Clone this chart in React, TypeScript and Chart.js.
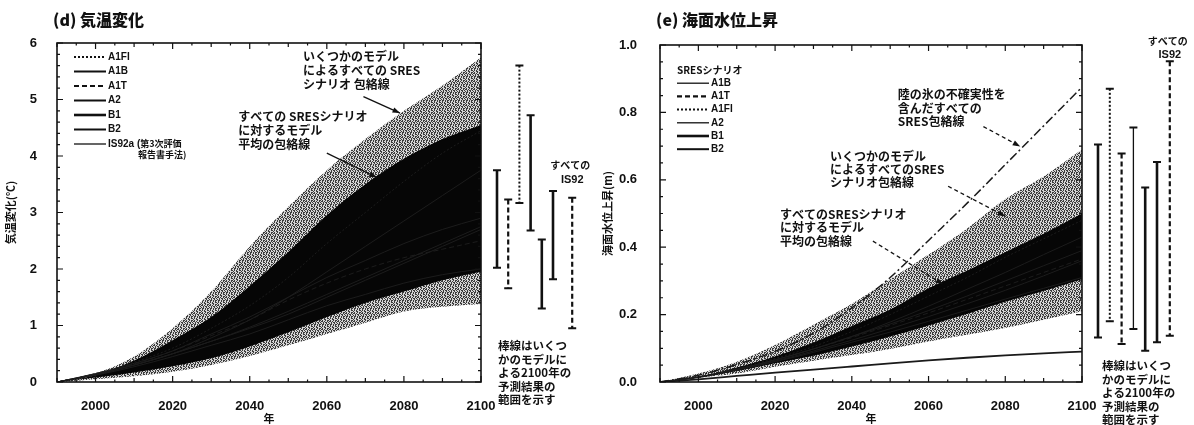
import React, { useEffect, useRef } from "react";
import { Chart, registerables } from "chart.js";

Chart.register(...registerables);

// ---------------- data ----------------
const years = [1990, 2000, 2010, 2020, 2030, 2040, 2050, 2060, 2070, 2080, 2090, 2100];
const yearTicks = [2000, 2020, 2040, 2060, 2080, 2100];
const tempTicks = [0, 1, 2, 3, 4, 5, 6];
const seaTicks = [0, 0.2, 0.4, 0.6, 0.8, 1.0];

// (d) temperature change (°C)
const tempAllUpper = [0, 0.15, 0.45, 0.95, 1.6, 2.4, 3.1, 3.75, 4.3, 4.8, 5.25, 5.75];
const tempMeanUpper = [0, 0.12, 0.38, 0.74, 1.15, 1.7, 2.3, 2.95, 3.5, 3.95, 4.3, 4.55];
const tempMeanLower = [0, 0.08, 0.17, 0.28, 0.42, 0.63, 0.88, 1.15, 1.4, 1.6, 1.8, 1.95];
const tempAllLower = [0, 0.05, 0.1, 0.18, 0.3, 0.46, 0.65, 0.85, 1.05, 1.25, 1.33, 1.38];

const tempA1FI = [0, 0.15, 0.35, 0.6, 0.95, 1.35, 1.85, 2.45, 3.0, 3.55, 4.05, 4.45];
const tempA1B = [0, 0.15, 0.33, 0.55, 0.85, 1.15, 1.5, 1.85, 2.15, 2.45, 2.7, 2.9];
const tempA1T = [0, 0.14, 0.32, 0.55, 0.82, 1.1, 1.45, 1.75, 2.0, 2.2, 2.35, 2.5];
const tempA2 = [0, 0.14, 0.3, 0.5, 0.78, 1.1, 1.5, 1.95, 2.4, 2.85, 3.3, 3.75];
const tempB1 = [0, 0.12, 0.27, 0.45, 0.65, 0.85, 1.1, 1.35, 1.55, 1.75, 1.9, 2.0];
const tempB2 = [0, 0.13, 0.3, 0.5, 0.72, 0.95, 1.2, 1.5, 1.8, 2.1, 2.4, 2.7];
const tempIS92a = [0, 0.13, 0.3, 0.5, 0.72, 0.97, 1.25, 1.55, 1.85, 2.15, 2.45, 2.75];

const tempBarNames = ["A1B", "A1T", "A1FI", "A2", "B1", "B2", "IS92"];
const tempBarLow = [2.02, 1.66, 3.17, 2.68, 1.3, 1.82, 0.95];
const tempBarHigh = [3.75, 3.23, 5.6, 4.72, 2.52, 3.38, 3.26];

// (e) sea level rise (m)
const seaIceUpper = [0, 0.02, 0.052, 0.091, 0.145, 0.22, 0.31, 0.42, 0.53, 0.645, 0.76, 0.875];
const seaIceLower = [0, 0.008, 0.018, 0.028, 0.037, 0.046, 0.055, 0.064, 0.072, 0.079, 0.085, 0.09];
const seaAllUpper = [0, 0.025, 0.06, 0.11, 0.17, 0.232, 0.305, 0.378, 0.455, 0.543, 0.61, 0.69];
const seaMeanUpper = [0, 0.015, 0.043, 0.076, 0.117, 0.166, 0.215, 0.278, 0.33, 0.385, 0.44, 0.5];
const seaMeanLower = [0, 0.013, 0.033, 0.056, 0.078, 0.105, 0.135, 0.168, 0.202, 0.238, 0.27, 0.305];
const seaAllLower = [0, 0.012, 0.025, 0.045, 0.063, 0.08, 0.098, 0.12, 0.14, 0.16, 0.185, 0.21];

const seaA1B = [0, 0.015, 0.038, 0.066, 0.098, 0.135, 0.172, 0.212, 0.255, 0.3, 0.345, 0.39];
const seaA1T = [0, 0.015, 0.038, 0.066, 0.098, 0.132, 0.168, 0.205, 0.245, 0.285, 0.325, 0.365];
const seaA1FI = [0, 0.015, 0.04, 0.07, 0.105, 0.15, 0.2, 0.255, 0.31, 0.37, 0.425, 0.48];
const seaA2 = [0, 0.014, 0.037, 0.065, 0.098, 0.135, 0.178, 0.225, 0.275, 0.325, 0.378, 0.43];
const seaB1 = [0, 0.014, 0.035, 0.06, 0.088, 0.118, 0.148, 0.18, 0.213, 0.246, 0.278, 0.31];
const seaB2 = [0, 0.014, 0.036, 0.062, 0.092, 0.124, 0.158, 0.194, 0.232, 0.272, 0.315, 0.36];

const seaBarNames = ["A1B", "A1FI", "A1T", "A2", "B1", "B2", "IS92"];
const seaBarLow = [0.132, 0.18, 0.113, 0.157, 0.093, 0.118, 0.137];
const seaBarHigh = [0.705, 0.87, 0.678, 0.755, 0.577, 0.653, 0.952];

// ---------------- styling ----------------
const LATIN = '"Liberation Sans", Arial, sans-serif';
const CJK = '"Noto Sans CJK JP", "Noto Sans", sans-serif';
const INK = "#111";

type Style = { dash: number[]; width: number };
type LegendItem = { label: string; style: Style };
type Note = { lines: string[]; x: number; y: number; from: [number, number]; to: [number, number]; dash: number[] };

interface PanelCfg {
  title: string;
  yTitle: string;
  yMin: number;
  yMax: number;
  yTicks: number[];
  yMinor: number;
  yDecimals: number;
  yWidth: number;
  areaTop: number;
  areaRight: number;
  canvasWidth: number;
  datasets: any[];
  legendHeader?: string;
  legend: LegendItem[];
  legendTop: number;
  legendRow: number;
  notes: Note[];
  noteFont: number;
  noteLine: number;
  barNames: string[];
  barLow: number[];
  barHigh: number[];
  barStyles: Style[];
  barStart: number;
  barStep: number;
  barExtra: number;
  allLabelVals: [number, number];
  foot: string[];
  footX: number;
  footY: number;
  footLine: number;
}

const pts = (arr: number[]) => years.map((x, i) => ({ x, y: arr[i] }));

function lineDs(label: string, arr: number[], color: string, width: number, dash: number[]) {
  return {
    label,
    data: pts(arr),
    borderColor: color,
    borderWidth: width,
    borderDash: dash,
    pointRadius: 0,
    fill: false,
    cubicInterpolationMode: "monotone",
  };
}

function bandDs(label: string, arr: number[], bg: any, fill: any) {
  return {
    label,
    data: pts(arr),
    borderColor: "rgba(0,0,0,0)",
    borderWidth: 0,
    backgroundColor: bg,
    pointRadius: 0,
    fill,
    cubicInterpolationMode: "monotone",
  };
}

function makeStipple(): any {
  const c = document.createElement("canvas");
  c.width = 8;
  c.height = 8;
  const g = c.getContext("2d");
  if (!g) return "#999";
  const rows = ["#.#..#.#", ".##.#..#", "#..#.##.", ".#.#..#.", "#.##.#.#", "..#..#.#", "#.#.#..#", ".#..##.."];
  for (let y = 0; y < 8; y++) {
    for (let x = 0; x < 8; x++) {
      g.fillStyle = rows[y][x] === "#" ? "#3c3c3c" : "#d6d6d6";
      g.fillRect(x, y, 1, 1);
    }
  }
  return g.createPattern(c, "repeat") || "#999";
}

function arrow(ctx: CanvasRenderingContext2D, x1: number, y1: number, x2: number, y2: number, dash: number[]) {
  ctx.save();
  ctx.strokeStyle = INK;
  ctx.fillStyle = INK;
  ctx.lineWidth = 1.3;
  ctx.setLineDash(dash);
  ctx.beginPath();
  ctx.moveTo(x1, y1);
  ctx.lineTo(x2, y2);
  ctx.stroke();
  ctx.setLineDash([]);
  const a = Math.atan2(y2 - y1, x2 - x1);
  ctx.beginPath();
  ctx.moveTo(x2, y2);
  ctx.lineTo(x2 - 8 * Math.cos(a - 0.35), y2 - 8 * Math.sin(a - 0.35));
  ctx.lineTo(x2 - 8 * Math.cos(a + 0.35), y2 - 8 * Math.sin(a + 0.35));
  ctx.closePath();
  ctx.fill();
  ctx.restore();
}

function decorPlugin(cfg: PanelCfg) {
  return {
    id: "decor",
    afterDraw(chart: any) {
      const ctx: CanvasRenderingContext2D = chart.ctx;
      const a = chart.chartArea;
      const xs = chart.scales.x;
      const ys = chart.scales.y;
      ctx.save();
      // frame
      ctx.strokeStyle = INK;
      ctx.lineWidth = 1.6;
      ctx.strokeRect(a.left, a.top, a.right - a.left, a.bottom - a.top);
      ctx.lineWidth = 1.2;
      ctx.beginPath();
      for (let yr = 1990; yr <= 2100; yr += 5) {
        const x = xs.getPixelForValue(yr);
        const len = yr % 20 === 0 ? 6 : yr % 10 === 0 ? 4 : 2.5;
        ctx.moveTo(x, a.bottom);
        ctx.lineTo(x, a.bottom - len);
        ctx.moveTo(x, a.top);
        ctx.lineTo(x, a.top + len);
      }
      const nMinor = Math.round((cfg.yMax - cfg.yMin) / cfg.yMinor);
      for (let i = 0; i <= nMinor; i++) {
        const v = cfg.yMin + i * cfg.yMinor;
        const y = ys.getPixelForValue(v);
        const major = cfg.yTicks.some((t) => Math.abs(t - v) < 1e-6);
        const len = major ? 6 : 3;
        ctx.moveTo(a.left, y);
        ctx.lineTo(a.left + len, y);
        ctx.moveTo(a.right, y);
        ctx.lineTo(a.right - len, y);
      }
      ctx.stroke();

      // title
      ctx.fillStyle = INK;
      ctx.textBaseline = "middle";
      ctx.textAlign = "left";
      ctx.font = `900 16px ${CJK}`;
      ctx.fillText(cfg.title, a.left - 4, 20);

      // legend
      let ly = a.top + cfg.legendTop;
      const lx = a.left + 17;
      if (cfg.legendHeader) {
        ctx.font = `bold 10px ${CJK}`;
        ctx.fillText(cfg.legendHeader, lx, ly);
        ly += cfg.legendRow;
      }
      cfg.legend.forEach((it, i) => {
        const y = ly + i * cfg.legendRow;
        ctx.save();
        ctx.strokeStyle = INK;
        ctx.lineWidth = it.style.width;
        ctx.setLineDash(it.style.dash);
        ctx.beginPath();
        ctx.moveTo(lx, y);
        ctx.lineTo(lx + 32, y);
        ctx.stroke();
        ctx.restore();
        const parts = it.label.split("\n");
        let px = lx + 34;
        parts.forEach((p, k) => {
          // latin head then CJK tail on the same line
          const m = p.match(/^([\x00-\x7f]*)(.*)$/);
          const head = m ? m[1] : p;
          const tail = m ? m[2] : "";
          let x = k > 0 ? lx + 64 : px;
          if (head) {
            ctx.font = `bold 10px ${LATIN}`;
            ctx.fillText(head, x, y + k * 11);
            x += ctx.measureText(head).width;
          }
          if (tail) {
            ctx.font = `bold 9px ${CJK}`;
            ctx.fillText(tail, x, y + k * 11);
          }
        });
      });

      // notes with arrows
      cfg.notes.forEach((n) => {
        const x0 = xs.getPixelForValue(n.x);
        const y0 = ys.getPixelForValue(n.y);
        ctx.font = `bold ${cfg.noteFont}px ${CJK}`;
        n.lines.forEach((t, k) => {
          const w = ctx.measureText(t).width;
          ctx.fillStyle = "#fff";
          ctx.fillRect(x0 - 1, y0 + k * cfg.noteLine - cfg.noteLine / 2, w + 2, cfg.noteLine);
          ctx.fillStyle = INK;
          ctx.fillText(t, x0, y0 + k * cfg.noteLine);
        });
        arrow(
          ctx,
          xs.getPixelForValue(n.from[0]),
          ys.getPixelForValue(n.from[1]),
          xs.getPixelForValue(n.to[0]),
          ys.getPixelForValue(n.to[1]),
          n.dash
        );
      });

      // range bars for 2100
      ctx.strokeStyle = INK;
      cfg.barLow.forEach((lo, i) => {
        const st = cfg.barStyles[i];
        const x =
          a.right + cfg.barStart + i * cfg.barStep + (i === cfg.barLow.length - 1 ? cfg.barExtra : 0);
        const yTop = ys.getPixelForValue(cfg.barHigh[i]);
        const yBot = ys.getPixelForValue(lo);
        ctx.lineWidth = st.width;
        ctx.setLineDash(st.dash);
        ctx.beginPath();
        ctx.moveTo(x, yTop);
        ctx.lineTo(x, yBot);
        ctx.stroke();
        ctx.setLineDash([]);
        ctx.lineWidth = 2;
        ctx.beginPath();
        ctx.moveTo(x - 4, yTop);
        ctx.lineTo(x + 4, yTop);
        ctx.moveTo(x - 4, yBot);
        ctx.lineTo(x + 4, yBot);
        ctx.stroke();
      });
      const lastX = a.right + cfg.barStart + (cfg.barLow.length - 1) * cfg.barStep + cfg.barExtra;
      ctx.textAlign = "center";
      ctx.font = `bold 10px ${CJK}`;
      ctx.fillText("すべての", lastX - 2, ys.getPixelForValue(cfg.allLabelVals[0]));
      ctx.font = `bold 11px ${LATIN}`;
      ctx.fillText(cfg.barNames[cfg.barNames.length - 1], lastX, ys.getPixelForValue(cfg.allLabelVals[1]));

      // footnote
      ctx.textAlign = "left";
      ctx.font = `bold 11.5px ${CJK}`;
      cfg.foot.forEach((t, k) => {
        ctx.fillText(t, a.right + cfg.footX, cfg.footY + k * cfg.footLine);
      });
      ctx.restore();
    },
  };
}

function Panel({ cfg, left }: { cfg: PanelCfg; left: number }) {
  const ref = useRef<HTMLCanvasElement>(null);
  useEffect(() => {
    const canvas = ref.current;
    if (!canvas) return;
    const chart = new Chart(canvas, {
      type: "line",
      data: { datasets: cfg.datasets },
      options: {
        animation: false,
        responsive: false,
        events: [],
        layout: { padding: { left: 0, top: cfg.areaTop, right: cfg.canvasWidth - cfg.areaRight, bottom: 0 } },
        plugins: { legend: { display: false }, tooltip: { enabled: false }, title: { display: false } },
        scales: {
          x: {
            type: "linear",
            min: 1990,
            max: 2100,
            grid: { display: false },
            border: { display: false },
            afterBuildTicks: (s: any) => {
              s.ticks = yearTicks.map((v) => ({ value: v }));
            },
            afterFit: (s: any) => {
              s.height = 425 - 382;
            },
            ticks: {
              padding: 9,
              maxRotation: 0,
              autoSkip: false,
              color: INK,
              font: { family: LATIN, size: 13, weight: "bold" },
              callback: (v: any) => String(v),
            },
            title: {
              display: true,
              text: "年",
              color: INK,
              padding: { top: 0, bottom: 0 },
              font: { family: CJK, size: 11, weight: "bold" },
            },
          },
          y: {
            type: "linear",
            min: cfg.yMin,
            max: cfg.yMax,
            grid: { display: false },
            border: { display: false },
            afterBuildTicks: (s: any) => {
              s.ticks = cfg.yTicks.map((v) => ({ value: v }));
            },
            afterFit: (s: any) => {
              s.width = cfg.yWidth;
            },
            ticks: {
              padding: cfg.yDecimals ? 15 : 12,
              color: INK,
              font: { family: LATIN, size: 13, weight: "bold" },
              callback: (v: any) => Number(v).toFixed(cfg.yDecimals),
            },
            title: {
              display: true,
              text: cfg.yTitle,
              color: INK,
              padding: { top: 4, bottom: 0 },
              font: { family: CJK, size: 11, weight: "bold" },
            },
          },
        },
      } as any,
      plugins: [decorPlugin(cfg) as any],
    });
    return () => chart.destroy();
  }, [cfg]);
  return (
    <canvas
      ref={ref}
      width={cfg.canvasWidth}
      height={425}
      style={{ position: "absolute", left, top: 0, width: cfg.canvasWidth, height: 425 }}
    />
  );
}

const S = {
  solid: { dash: [], width: 2 },
  thin: { dash: [], width: 1.3 },
  thick: { dash: [], width: 2.6 },
  dashed: { dash: [5, 3], width: 2.2 },
  dotted: { dash: [2, 2], width: 2 },
};

export default function App() {
  const stipple = React.useMemo(() => makeStipple(), []);
  const scen = "#1c1c1c";

  const tempCfg: PanelCfg = React.useMemo(
    () => ({
      title: "(d) 気温変化",
      yTitle: "気温変化(℃)",
      yMin: 0,
      yMax: 6,
      yTicks: tempTicks,
      yMinor: 0.2,
      yDecimals: 0,
      yWidth: 57,
      areaTop: 43,
      areaRight: 481,
      canvasWidth: 597,
      datasets: [
        lineDs("A1FI", tempA1FI, scen, 1, [2, 2]),
        lineDs("A1B", tempA1B, scen, 1, []),
        lineDs("A1T", tempA1T, scen, 1, [5, 3]),
        lineDs("A2", tempA2, scen, 1, []),
        lineDs("B1", tempB1, scen, 1, []),
        lineDs("B2", tempB2, scen, 1, []),
        lineDs("IS92a", tempIS92a, scen, 1, []),
        bandDs("モデル平均の包絡線 上限", tempMeanUpper, "#060606", "+1"),
        bandDs("モデル平均の包絡線 下限", tempMeanLower, "#060606", false),
        bandDs("SRES包絡線 上限", tempAllUpper, stipple, "+1"),
        bandDs("SRES包絡線 下限", tempAllLower, stipple, false),
      ],
      legend: [
        { label: "A1FI", style: S.dotted },
        { label: "A1B", style: S.solid },
        { label: "A1T", style: S.dashed },
        { label: "A2", style: S.solid },
        { label: "B1", style: S.thick },
        { label: "B2", style: S.solid },
        { label: "IS92a (第3次評価\n報告書手法)", style: S.thin },
      ],
      legendTop: 14,
      legendRow: 14.5,
      notes: [
        {
          lines: ["いくつかのモデル", "によるすべての SRES", "シナリオ 包絡線"],
          x: 2053.8,
          y: 5.76,
          from: [2069.5, 5.05],
          to: [2079, 4.76],
          dash: [],
        },
        {
          lines: ["すべての SRESシナリオ", "に対するモデル", "平均の包絡線"],
          x: 2037,
          y: 4.7,
          from: [2060, 4.05],
          to: [2073, 3.62],
          dash: [],
        },
      ],
      noteFont: 12,
      noteLine: 14,
      barNames: tempBarNames,
      barLow: tempBarLow,
      barHigh: tempBarHigh,
      barStyles: [S.thick, S.dashed, S.dotted, S.thick, S.thick, S.thick, S.dashed],
      barStart: 16,
      barStep: 11.2,
      barExtra: 8,
      allLabelVals: [3.83, 3.58],
      foot: ["棒線はいくつ", "かのモデルに", "よる2100年の", "予測結果の", "範囲を示す"],
      footX: 17,
      footY: 346,
      footLine: 13.5,
    }),
    [stipple]
  );

  const seaCfg: PanelCfg = React.useMemo(
    () => ({
      title: "(e) 海面水位上昇",
      yTitle: "海面水位上昇(m)",
      yMin: 0,
      yMax: 1,
      yTicks: seaTicks,
      yMinor: 0.05,
      yDecimals: 1,
      yWidth: 63,
      areaTop: 45,
      areaRight: 485,
      canvasWidth: 597,
      datasets: [
        lineDs("A1B", seaA1B, scen, 1, []),
        lineDs("A1T", seaA1T, scen, 1, [5, 3]),
        lineDs("A1FI", seaA1FI, scen, 1, [2, 2]),
        lineDs("A2", seaA2, scen, 1, []),
        lineDs("B1", seaB1, scen, 1, []),
        lineDs("B2", seaB2, scen, 1, []),
        lineDs("陸の氷の不確実性を含んだSRES包絡線 上限", seaIceUpper, "#1a1a1a", 1.5, [9, 3, 2, 3]),
        lineDs("陸の氷の不確実性を含んだSRES包絡線 下限", seaIceLower, "#1a1a1a", 1.8, []),
        bandDs("モデル平均の包絡線 上限", seaMeanUpper, "#060606", "+1"),
        bandDs("モデル平均の包絡線 下限", seaMeanLower, "#060606", false),
        bandDs("SRES包絡線 上限", seaAllUpper, stipple, "+1"),
        bandDs("SRES包絡線 下限", seaAllLower, stipple, false),
      ],
      legendHeader: "SRESシナリオ",
      legend: [
        { label: "A1B", style: S.thin },
        { label: "A1T", style: S.dashed },
        { label: "A1FI", style: S.dotted },
        { label: "A2", style: S.thin },
        { label: "B1", style: S.thick },
        { label: "B2", style: S.solid },
      ],
      legendTop: 25,
      legendRow: 13.2,
      notes: [
        {
          lines: ["陸の氷の不確実性を", "含んだすべての", "SRES包絡線"],
          x: 2052,
          y: 0.852,
          from: [2074.3, 0.758],
          to: [2083.9, 0.699],
          dash: [4, 3],
        },
        {
          lines: ["いくつかのモデル", "によるすべてのSRES", "シナリオ包絡線"],
          x: 2034.3,
          y: 0.67,
          from: [2065.1, 0.581],
          to: [2080, 0.492],
          dash: [4, 3],
        },
        {
          lines: ["すべてのSRESシナリオ", "に対するモデル", "平均の包絡線"],
          x: 2021.3,
          y: 0.497,
          from: [2045.5, 0.418],
          to: [2063.8, 0.29],
          dash: [4, 3],
        },
      ],
      noteFont: 12,
      noteLine: 13.3,
      barNames: seaBarNames,
      barLow: seaBarLow,
      barHigh: seaBarHigh,
      barStyles: [S.thick, S.dotted, S.dashed, S.thin, S.thick, S.thick, S.dashed],
      barStart: 16,
      barStep: 11.8,
      barExtra: 1,
      allLabelVals: [1.01, 0.97],
      foot: ["棒線はいくつ", "かのモデルに", "よる2100年の", "予測結果の", "範囲を示す"],
      footX: 20,
      footY: 366,
      footLine: 13.5,
    }),
    [stipple]
  );

  return (
    <div style={{ position: "absolute", left: 0, top: 0, width: 1194, height: 425, background: "#fff", overflow: "hidden" }}>
      <Panel cfg={tempCfg} left={0} />
      <Panel cfg={seaCfg} left={597} />
    </div>
  );
}
